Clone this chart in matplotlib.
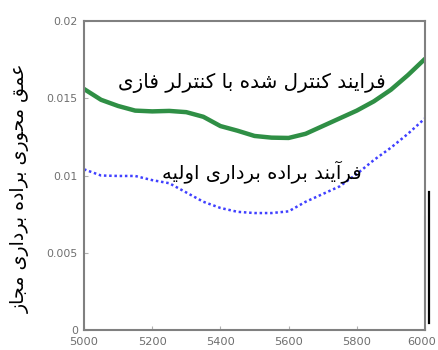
import matplotlib
matplotlib.use("Agg")
import matplotlib.pyplot as plt
import matplotlib.transforms as mtransforms
from matplotlib.lines import Line2D

# ---------------- data ----------------
x_vals = [5000, 5050, 5100, 5150, 5200, 5250, 5300, 5350, 5400, 5450, 5500,
          5550, 5600, 5650, 5700, 5750, 5800, 5850, 5900, 5950, 6000]
controlled = [0.0156, 0.0149, 0.0145, 0.0142, 0.01415, 0.01418, 0.0141, 0.0138,
              0.0132, 0.0129, 0.01256, 0.01245, 0.01243, 0.0127, 0.0132, 0.0137,
              0.0142, 0.0148, 0.01555, 0.0165, 0.01755]
initial = [0.0104, 0.0100, 0.00997, 0.00997, 0.0097, 0.0095, 0.0089, 0.0083,
           0.0079, 0.00765, 0.00757, 0.00757, 0.00768, 0.0083, 0.0088, 0.0093,
           0.0101, 0.0110, 0.0118, 0.0127, 0.0137]
x_ticks = [5000, 5200, 5400, 5600, 5800, 6000]
y_ticks = [0, 0.005, 0.01, 0.015, 0.02]
y_tick_labels = ["0", "0.005", "0.01", "0.015", "0.02"]
label_controlled = "فرایند کنترل شده با کنترلر فازی"
label_initial = "فرآیند براده برداری اولیه"
y_label = "عمق محوری براده برداری مجاز"

# ------------- simple Persian shaping -------------
FORMS = {  # isolated, final, initial, medial
    'ا': ('\uFE8D', '\uFE8E', None, None),
    'آ': ('\uFE81', '\uFE82', None, None),
    'ب': ('\uFE8F', '\uFE90', '\uFE91', '\uFE92'),
    'ت': ('\uFE95', '\uFE96', '\uFE97', '\uFE98'),
    'ج': ('\uFE9D', '\uFE9E', '\uFE9F', '\uFEA0'),
    'ح': ('\uFEA1', '\uFEA2', '\uFEA3', '\uFEA4'),
    'د': ('\uFEA9', '\uFEAA', None, None),
    'ر': ('\uFEAD', '\uFEAE', None, None),
    'ز': ('\uFEAF', '\uFEB0', None, None),
    'ش': ('\uFEB5', '\uFEB6', '\uFEB7', '\uFEB8'),
    'ع': ('\uFEC9', '\uFECA', '\uFECB', '\uFECC'),
    'ف': ('\uFED1', '\uFED2', '\uFED3', '\uFED4'),
    'ق': ('\uFED5', '\uFED6', '\uFED7', '\uFED8'),
    'ل': ('\uFEDD', '\uFEDE', '\uFEDF', '\uFEE0'),
    'م': ('\uFEE1', '\uFEE2', '\uFEE3', '\uFEE4'),
    'ن': ('\uFEE5', '\uFEE6', '\uFEE7', '\uFEE8'),
    'ه': ('\uFEE9', '\uFEEA', '\uFEEB', '\uFEEC'),
    'و': ('\uFEED', '\uFEEE', None, None),
    'ی': ('\uFBFC', '\uFBFD', '\uFBFE', '\uFBFF'),
    'ک': ('\uFB8E', '\uFB8F', '\uFB90', '\uFB91'),
}


def dual(c):
    return c in FORMS and FORMS[c][2] is not None


def shape(s):
    out = []
    for i, c in enumerate(s):
        if c not in FORMS:
            out.append(c)
            continue
        prev = s[i - 1] if i > 0 else ' '
        nxt = s[i + 1] if i + 1 < len(s) else ' '
        join_prev = dual(prev)
        join_next = dual(c) and nxt in FORMS
        iso, fin, ini, med = FORMS[c]
        if join_prev and join_next:
            out.append(med)
        elif join_prev:
            out.append(fin)
        elif join_next:
            out.append(ini)
        else:
            out.append(iso)
    return ''.join(out)[::-1]


# ---------------- plot ----------------
fig = plt.figure(figsize=(4.38, 3.5), dpi=100)
ax = fig.add_axes([84 / 438, 1 - 330 / 350, 341 / 438, 309 / 350])

ax.plot(x_vals, controlled, color='#2f8f45', lw=3.2, solid_capstyle='round')
ax.plot(x_vals, initial, color='#4040ff', lw=1.8, linestyle=(0, (1, 1.1)))

ax.set_xlim(5000, 6000)
ax.set_ylim(0, 0.02)
ax.set_xticks(x_ticks)
ax.set_xticklabels([str(v) for v in x_ticks])
ax.set_yticks(y_ticks)
ax.set_yticklabels(y_tick_labels)

gray = '#808080'
for sp in ax.spines.values():
    sp.set_color(gray)
    sp.set_linewidth(1.5)
ax.tick_params(direction='in', length=3, width=0.8, color='#b0b0b0',
               labelcolor='#6e6e6e')
ax.tick_params(axis='x', pad=5, labelsize=8.2)
ax.tick_params(axis='y', pad=4.5, labelsize=7.8)

# keep the last x tick label inside the canvas
last = ax.get_xticklabels()[-1]
last.set_transform(last.get_transform() +
                   mtransforms.ScaledTranslation(-3 / 100, 0, fig.dpi_scale_trans))

fam = ['DejaVu Sans']
ax.text(5493, 0.0160, shape(label_controlled), ha='center', va='center',
        fontsize=14.3, family=fam, color='black')
ax.text(5522, 0.01023, shape(label_initial), ha='center', va='center',
        fontsize=14.0, family=fam, color='black')

fig.text(20 / 438, 1 - 188 / 350, shape(y_label), rotation=90, ha='center',
         va='center', fontsize=13.7, family=fam, color='black')

# artifacts near the right spine
ax.add_line(Line2D([1.0, 1.0], [0.055, 0.366], transform=ax.transAxes,
                   color='#e6e6e6', lw=1.6, clip_on=False))
ax.add_line(Line2D([1.012, 1.012], [0.023, 0.447], transform=ax.transAxes,
                   color='black', lw=1.6, clip_on=False))

fig.savefig('out.png', dpi=100)
